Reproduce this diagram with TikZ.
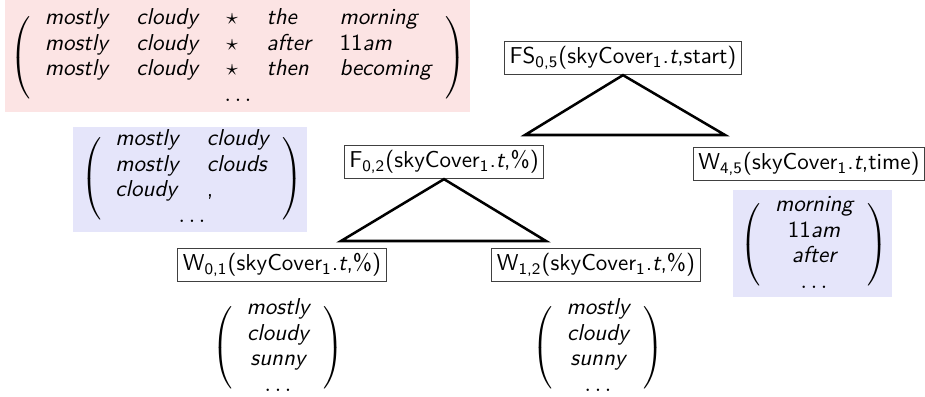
\documentclass[tikz,border=0pt]{standalone}
\usepackage{amsmath}
\renewcommand{\familydefault}{\sfdefault}
\renewcommand{\arraystretch}{0.92}
\setlength{\arraycolsep}{6.2pt}
\delimiterfactor=700
\delimitershortfall=14pt
\definecolor{pinkbg}{RGB}{252,228,228}
\definecolor{bluebg}{RGB}{229,229,250}
% italic sans word, and an upright sans index
\newcommand{\wrd}[1]{\textsf{\itshape #1}}
\newcommand{\idx}[1]{$_{\textsf{#1}}$}
\begin{document}
\begin{tikzpicture}[x=0.4348pt,y=-0.4348pt,
  cell/.style={draw=black!75, line width=0.5pt, inner sep=2.2pt, font=\sffamily},
  tri/.style={line width=1.1pt, line join=miter},
  vec/.style={inner sep=0pt, font=\sffamily}]
\useasboundingbox (0,0) rectangle (925,397);

% shaded backgrounds behind the word vectors
\fill[pinkbg] (5,0) rectangle (470,112);
\fill[bluebg] (73,127) rectangle (307,232);
\fill[bluebg] (733,190) rectangle (892,297);

% word vectors
\node[vec] (phrases) at (238,58) {$\left(\begin{array}{lllll}
  \wrd{mostly} & \wrd{cloudy} & \star & \wrd{the} & \wrd{morning}\\
  \wrd{mostly} & \wrd{cloudy} & \star & \wrd{after} & \textsf{11\wrd{am}}\\
  \wrd{mostly} & \wrd{cloudy} & \star & \wrd{then} & \wrd{becoming}\\
  \multicolumn{5}{c}{\ldots}
\end{array}\right)$};
\node[vec] (pairs) at (192,179) {$\left(\begin{array}{ll}
  \wrd{mostly} & \wrd{cloudy}\\
  \wrd{mostly} & \wrd{clouds}\\
  \wrd{cloudy} & \textsf{,}\\
  \multicolumn{2}{c}{\ldots}
\end{array}\right)$};
\node[vec] (times) at (814,245) {$\left(\begin{array}{c}
  \wrd{morning}\\ \textsf{11\wrd{am}}\\ \wrd{after}\\ \ldots
\end{array}\right)$};

% tree nodes
\node[cell] (FS) at (623,58) {FS\idx{0,5}(skyCover\idx{1}.\textit{t},start)};
\node[cell] (F02) at (444,162) {F\idx{0,2}(skyCover\idx{1}.\textit{t},\%)};
\node[cell] (W45) at (809,164) {W\idx{4,5}(skyCover\idx{1}.\textit{t},time)};
\node[cell] (W01) at (282,265) {W\idx{0,1}(skyCover\idx{1}.\textit{t},\%)};
\node[cell] (W12) at (596,265) {W\idx{1,2}(skyCover\idx{1}.\textit{t},\%)};

% leaf vectors
\node[vec] (leafA) at (278,348) {$\left(\begin{array}{c}
  \wrd{mostly}\\ \wrd{cloudy}\\ \wrd{sunny}\\ \ldots
\end{array}\right)$};
\node[vec] (leafB) at (598,348) {$\left(\begin{array}{c}
  \wrd{mostly}\\ \wrd{cloudy}\\ \wrd{sunny}\\ \ldots
\end{array}\right)$};

% expansion triangles
\coordinate (t1l) at (525,135);
\coordinate (t1r) at (725,135);
\coordinate (t2l) at (341,241);
\coordinate (t2r) at (546,241);
\draw[tri] (FS.south) -- (t1r) -- (t1l) -- cycle;
\draw[tri] (F02.south) -- (t2r) -- (t2l) -- cycle;
\end{tikzpicture}
\end{document}
